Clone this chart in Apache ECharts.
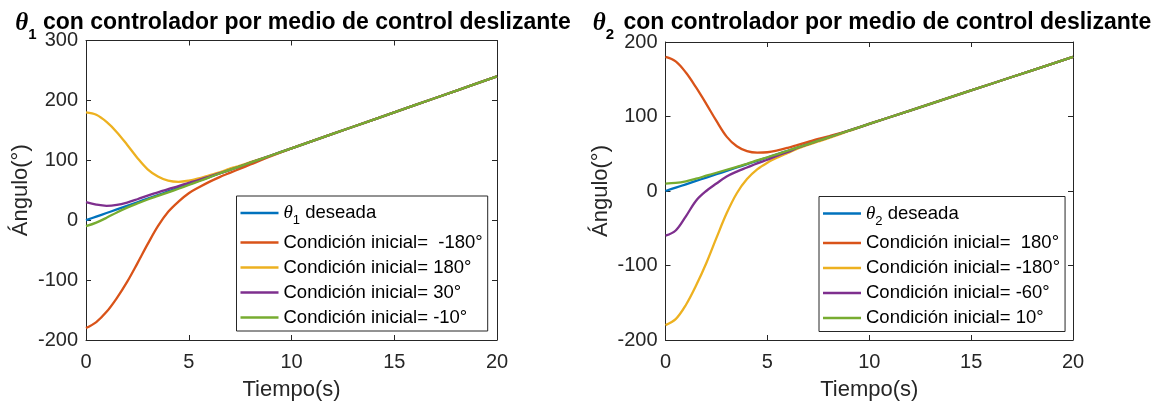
<!DOCTYPE html>
<html>
<head>
<meta charset="utf-8">
<script src="https://cdn.jsdelivr.net/npm/echarts@6/dist/echarts.min.js"></script>
<style>
  html, body { margin: 0; padding: 0; background: #ffffff; }
  #chart { width: 1156px; height: 408px; }
</style>
</head>
<body>
<div id="chart"></div>
<script>
// Sample times (s)
const timeS = [0, 0.5, 1, 1.5, 2, 2.5, 3, 3.5, 4, 4.5, 5, 5.5, 6, 6.5, 7, 7.5, 8, 9, 10, 12, 14, 16, 18, 20];

// Joint 1 angles (deg)
const theta1Desired = [0, 6, 12, 18, 24, 30, 36, 42, 48, 54, 60, 66, 72, 78, 84, 90, 96, 108, 120, 144, 168, 192, 216, 240];
const theta1FromM180 = [-180, -170, -153, -130, -103, -72, -40, -10, 14, 31, 45, 55, 64, 72, 79, 86, 93, 107, 120, 144, 168, 192, 216, 240];
const theta1From180 = [180, 176, 164, 147, 126, 104, 85, 73, 66, 64, 66, 70, 75, 80, 86, 91, 97, 108, 120, 144, 168, 192, 216, 240];
const theta1From30 = [30, 26, 24, 25.5, 29.5, 35, 41, 46.5, 52, 57, 62.5, 67.5, 73, 78.5, 84, 90, 96, 108, 120, 144, 168, 192, 216, 240];
const theta1FromM10 = [-10, -4, 4, 13, 21, 28, 34.5, 40.5, 46.5, 52.5, 58.7, 65, 71.5, 78, 84, 90, 96, 108, 120, 144, 168, 192, 216, 240];

// Joint 2 angles (deg)
const theta2Desired = [0, 4.5, 9, 13.5, 18, 22.5, 27, 31.5, 36, 40.5, 45, 49.5, 54, 58.5, 63, 67.5, 72, 81, 90, 108, 126, 144, 162, 180];
const theta2From180 = [180, 174, 159, 139, 117, 94, 73, 60, 53.5, 51.5, 52, 54.5, 58, 62, 66, 70, 73.5, 81.2, 90, 108, 126, 144, 162, 180];
const theta2FromM180 = [-180, -172, -153, -127, -97, -63, -30, -3, 16, 29, 38, 45, 51, 57, 62, 66.5, 71, 80.5, 90, 108, 126, 144, 162, 180];
const theta2FromM60 = [-60, -53, -34, -13, 0, 10, 19.5, 26, 31.5, 37, 42, 47.5, 52.5, 58, 63, 67.5, 72, 81, 90, 108, 126, 144, 162, 180];
const theta2From10 = [10, 10.8, 13, 16.5, 20.5, 24.5, 28.5, 32.5, 36.5, 41, 45.3, 49.6, 54, 58.5, 63, 67.5, 72, 81, 90, 108, 126, 144, 162, 180];

// Legend labels
const namesLeft = ['θ1 deseada', 'Condición inicial=  -180°', 'Condición inicial= 180°', 'Condición inicial= 30°', 'Condición inicial= -10°'];
const namesRight = ['θ2 deseada', 'Condición inicial=  180°', 'Condición inicial= -180°', 'Condición inicial= -60°', 'Condición inicial= 10°'];

// Axis ticks
const xTicks = { min: 0, max: 20, interval: 5 };
const yTicksLeft = { min: -200, max: 300, interval: 100 };
const yTicksRight = { min: -200, max: 200, interval: 100 };

const colors = ['#0072BD', '#D95319', '#EDB120', '#7E2F8E', '#77AC30'];
const sans = "'Liberation Sans', Arial, Helvetica, sans-serif";
const serif = "'Liberation Serif', 'Times New Roman', serif";
const axisColor = '#262626';

function lineSeries(name, values, axisIdx, k) {
  return {
    name: name,
    type: 'line',
    xAxisIndex: axisIdx,
    yAxisIndex: axisIdx,
    data: timeS.map((t, i) => [t, values[i]]),
    symbol: 'none',
    smooth: 0.35,
    lineStyle: { width: 2.3, color: colors[k] },
    itemStyle: { color: colors[k] },
    z: 2 + k,
    animation: false
  };
}

function xAxisDef(gridIndex, position, showLabels) {
  return {
    type: 'value', gridIndex: gridIndex, position: position,
    min: xTicks.min, max: xTicks.max, interval: xTicks.interval,
    name: showLabels ? 'Tiempo(s)' : '',
    nameLocation: 'middle', nameGap: 39,
    nameTextStyle: { fontFamily: sans, fontSize: 22, color: axisColor },
    axisLine: { show: true, onZero: false, lineStyle: { color: axisColor, width: 1 } },
    axisTick: { show: true, inside: true, length: 5, lineStyle: { color: axisColor } },
    axisLabel: { show: showLabels, fontFamily: sans, fontSize: 20, color: axisColor, margin: 12 },
    splitLine: { show: false }
  };
}

function yAxisDef(gridIndex, position, ticks, showLabels) {
  return {
    type: 'value', gridIndex: gridIndex, position: position,
    min: ticks.min, max: ticks.max, interval: ticks.interval,
    name: showLabels ? 'Ángulo(°)' : '',
    nameLocation: 'middle', nameGap: 54,
    nameTextStyle: { fontFamily: sans, fontSize: 22, color: axisColor },
    axisLine: { show: true, onZero: false, lineStyle: { color: axisColor, width: 1 } },
    axisTick: { show: true, inside: true, length: 5, lineStyle: { color: axisColor } },
    axisLabel: { show: showLabels, fontFamily: sans, fontSize: 20, color: axisColor, margin: 8 },
    splitLine: { show: false }
  };
}

// Title: italic theta, bold subscript dropped below the baseline, bold heading text
const titleRich = {
  th: { fontFamily: serif, fontStyle: 'italic', fontSize: 25, verticalAlign: 'top', color: '#000' },
  sub: { fontFamily: sans, fontWeight: 'bold', fontSize: 15, lineHeight: 48, verticalAlign: 'middle', color: '#000' },
  sub2: { fontFamily: sans, fontWeight: 'bold', fontSize: 15, lineHeight: 48, verticalAlign: 'middle', color: '#000', padding: [0, 3, 0, 0] },
  m: { fontFamily: sans, fontWeight: 'bold', fontSize: 23, verticalAlign: 'top', color: '#000' }
};

const legendRich = {
  th: { fontFamily: serif, fontStyle: 'italic', fontSize: 19, lineHeight: 28, verticalAlign: 'middle', color: '#000' },
  sub: { fontFamily: sans, fontSize: 13, lineHeight: 13, verticalAlign: 'bottom', color: '#000' },
  t: { fontFamily: sans, fontSize: 18.5, lineHeight: 28, verticalAlign: 'middle', color: '#000' }
};

function legendFormatter(name) {
  const m = name.match(/^θ(\d) (.*)$/);
  if (m) return '{th|θ}{sub|' + m[1] + '}{t| ' + m[2] + '}';
  return name;
}

function legendDef(names, left, top) {
  return {
    data: names, orient: 'vertical', left: left, top: top,
    icon: 'rect',
    padding: [3, 5, 4, 4], itemGap: 6, itemWidth: 38, itemHeight: 2.3,
    backgroundColor: '#ffffff', borderColor: axisColor, borderWidth: 1, borderRadius: 0,
    selectedMode: false,
    textStyle: { fontFamily: sans, fontSize: 18.5, lineHeight: 18.5, color: '#000', rich: legendRich },
    formatter: legendFormatter
  };
}

const option = {
  animation: false,
  backgroundColor: '#ffffff',
  title: [
    { text: '{th|θ}{sub|1}{m| con controlador por medio de control deslizante}', left: 293, top: 11, textAlign: 'center', padding: 0, textStyle: { rich: titleRich } },
    { text: '{th|θ}{sub2|2}{m| con controlador por medio de control deslizante}', left: 872, top: 11, textAlign: 'center', padding: 0, textStyle: { rich: titleRich } }
  ],
  grid: [
    { left: 86, top: 40.5, width: 411, height: 299.5, containLabel: false },
    { left: 665.5, top: 42, width: 407.5, height: 298, containLabel: false }
  ],
  xAxis: [
    xAxisDef(0, 'bottom', true), xAxisDef(0, 'top', false),
    xAxisDef(1, 'bottom', true), xAxisDef(1, 'top', false)
  ],
  yAxis: [
    yAxisDef(0, 'left', yTicksLeft, true), yAxisDef(0, 'right', yTicksLeft, false),
    yAxisDef(1, 'left', yTicksRight, true), yAxisDef(1, 'right', yTicksRight, false)
  ],
  legend: [
    legendDef(namesLeft, 236.5, 196),
    legendDef(namesRight, 819, 196.5)
  ],
  series: [
    lineSeries(namesLeft[0], theta1Desired, 0, 0),
    lineSeries(namesLeft[1], theta1FromM180, 0, 1),
    lineSeries(namesLeft[2], theta1From180, 0, 2),
    lineSeries(namesLeft[3], theta1From30, 0, 3),
    lineSeries(namesLeft[4], theta1FromM10, 0, 4),
    lineSeries(namesRight[0], theta2Desired, 2, 0),
    lineSeries(namesRight[1], theta2From180, 2, 1),
    lineSeries(namesRight[2], theta2FromM180, 2, 2),
    lineSeries(namesRight[3], theta2FromM60, 2, 3),
    lineSeries(namesRight[4], theta2From10, 2, 4)
  ]
};

const chart = echarts.init(document.getElementById('chart'), null, { renderer: 'canvas' });
chart.setOption(option);
</script>
</body>
</html>
